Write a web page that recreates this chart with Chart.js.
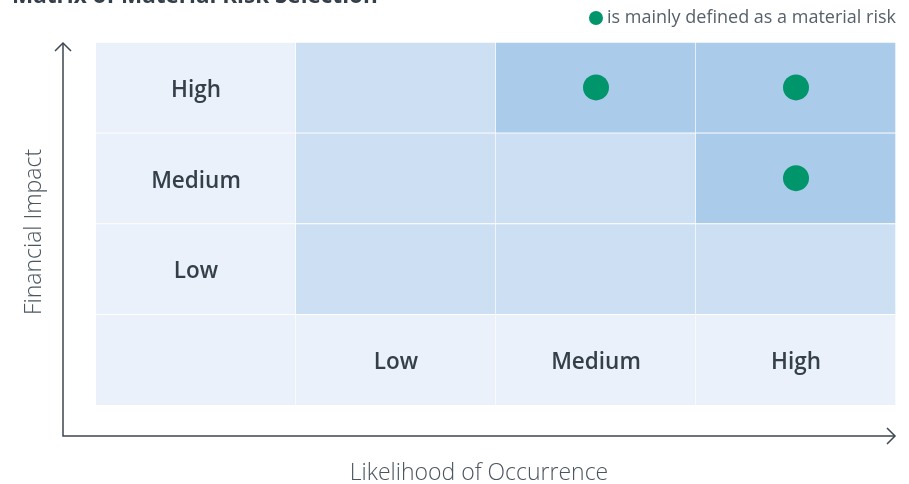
<!DOCTYPE html>
<html>
<head>
<meta charset="utf-8">
<script src="https://cdn.jsdelivr.net/npm/chart.js@4.4.1/dist/chart.umd.min.js"></script>
<style>
    html, body { margin: 0; padding: 0; background: #fff; }
    #wrap { width: 909px; height: 484px; }
</style>
</head>
<body>
<div id="wrap"><canvas id="chart1" width="909" height="484"></canvas></div>
<script>
// likelihood (columns, left to right) and financial impact (rows, bottom to top)
const likelihood = ['', 'Low', 'Medium', 'High'];
const impact = ['', 'Low', 'Medium', 'High'];
// 0 = label cell, 1 = normal, 2 = elevated; one array per impact row, bottom to top
const riskRow0 = [0, 0, 0, 0];
const riskRow1 = [0, 1, 1, 1];
const riskRow2 = [0, 1, 1, 2];
const riskRow3 = [0, 1, 2, 2];
// cells marked as material risk
const materialLikelihood = ['Medium', 'High', 'High'];
const materialImpact = ['High', 'High', 'Medium'];

const title = 'Matrix of Material Risk Selection';
const legendText = 'is mainly defined as a material risk';
const xTitle = 'Likelihood of Occurrence';
const yTitle = 'Financial Impact';

const shade = ['#eaf1fa', '#cddff3', '#abcbea'];
const green = '#00956a';
const ink = '#343f49';

const rows = [riskRow0, riskRow1, riskRow2, riskRow3];
const cellSets = rows.map((r, i) => ({
    type: 'bar',
    label: 'row' + i,
    data: r.map(() => 1),
    backgroundColor: r.map(level => shade[level]),
    borderColor: '#ffffff',
    borderWidth: {top: 1, right: 1, bottom: 0, left: 0},
    borderSkipped: false,
    barPercentage: 1,
    categoryPercentage: 1,
    yAxisID: 'y'
}));

// x given as the category name, so the category scale looks it up
const dots = {
    type: 'scatter',
    label: 'material',
    data: materialLikelihood.map((x, i) => ({x: x, y: impact.indexOf(materialImpact[i]) + 0.5})),
    backgroundColor: green,
    borderWidth: 0,
    pointRadius: 13,
    yAxisID: 'y2'
};

const matrixText = {
    id: 'matrixText',
    afterDatasetsDraw(chart) {
        const ctx = chart.ctx;
        const xs = chart.scales.x, ys = chart.scales.y;
        ctx.save();
        ctx.fillStyle = ink;
        ctx.font = '600 22.5px "Open Sans"';
        ctx.textAlign = 'center';
        ctx.textBaseline = 'middle';
        impact.forEach((name, i) => {
            if (name) ctx.fillText(name, xs.getPixelForValue(0), ys.getPixelForValue(i + 0.5) + 3);
        });
        likelihood.forEach((name, i) => {
            if (name) ctx.fillText(name, xs.getPixelForValue(i), ys.getPixelForValue(0.5) + 3);
        });
        ctx.restore();
    },
    afterDraw(chart) {
        const ctx = chart.ctx;
        const a = chart.chartArea;
        const ox = a.left - 33, oy = a.bottom + 31;
        ctx.save();
        ctx.strokeStyle = '#3c4650';
        ctx.lineWidth = 1.5;
        ctx.beginPath();
        ctx.moveTo(ox, a.top + 1);
        ctx.lineTo(ox, oy);
        ctx.lineTo(a.right - 1, oy);
        ctx.stroke();
        ctx.beginPath();
        ctx.moveTo(ox - 8, a.top + 9);
        ctx.lineTo(ox, a.top + 1);
        ctx.lineTo(ox + 8, a.top + 9);
        ctx.moveTo(a.right - 9, oy - 8);
        ctx.lineTo(a.right - 1, oy);
        ctx.lineTo(a.right - 9, oy + 8);
        ctx.stroke();

        // axis titles
        ctx.fillStyle = '#4a555f';
        ctx.font = '300 23px "Open Sans"';
        ctx.textAlign = 'center';
        ctx.textBaseline = 'middle';
        ctx.fillText(xTitle, (a.left + a.right) / 2 - 17, oy + 37);
        ctx.translate(ox - 29, (a.top + oy) / 2 - 7);
        ctx.rotate(-Math.PI / 2);
        ctx.fillText(yTitle, 0, 0);
        ctx.restore();

        // clipped title
        ctx.save();
        ctx.fillStyle = ink;
        ctx.font = 'bold 22.5px "Open Sans"';
        ctx.textAlign = 'left';
        ctx.textBaseline = 'alphabetic';
        ctx.fillText(title, 12, 2.5);

        // legend
        ctx.font = '18px "Open Sans"';
        ctx.fillStyle = '#56616b';
        ctx.textAlign = 'right';
        ctx.textBaseline = 'middle';
        ctx.fillText(legendText, a.right, 18);
        const w = ctx.measureText(legendText).width;
        ctx.fillStyle = green;
        ctx.beginPath();
        ctx.arc(a.right - w - 11, 18, 7, 0, Math.PI * 2);
        ctx.fill();
        ctx.restore();
    }
};

new Chart(document.getElementById('chart1'), {
    type: 'bar',
    data: {
        labels: likelihood,
        datasets: [dots].concat(cellSets)
    },
    options: {
        responsive: false,
        animation: false,
        events: [],
        layout: {padding: {left: 96, right: 12, top: 42, bottom: 79}},
        plugins: {legend: {display: false}, tooltip: {enabled: false}},
        scales: {
            x: {type: 'category', display: false, stacked: true},
            y: {display: false, stacked: true, min: 0, max: 4},
            y2: {display: false, min: 0, max: 4}
        }
    },
    plugins: [matrixText]
});
</script>
</body>
</html>
